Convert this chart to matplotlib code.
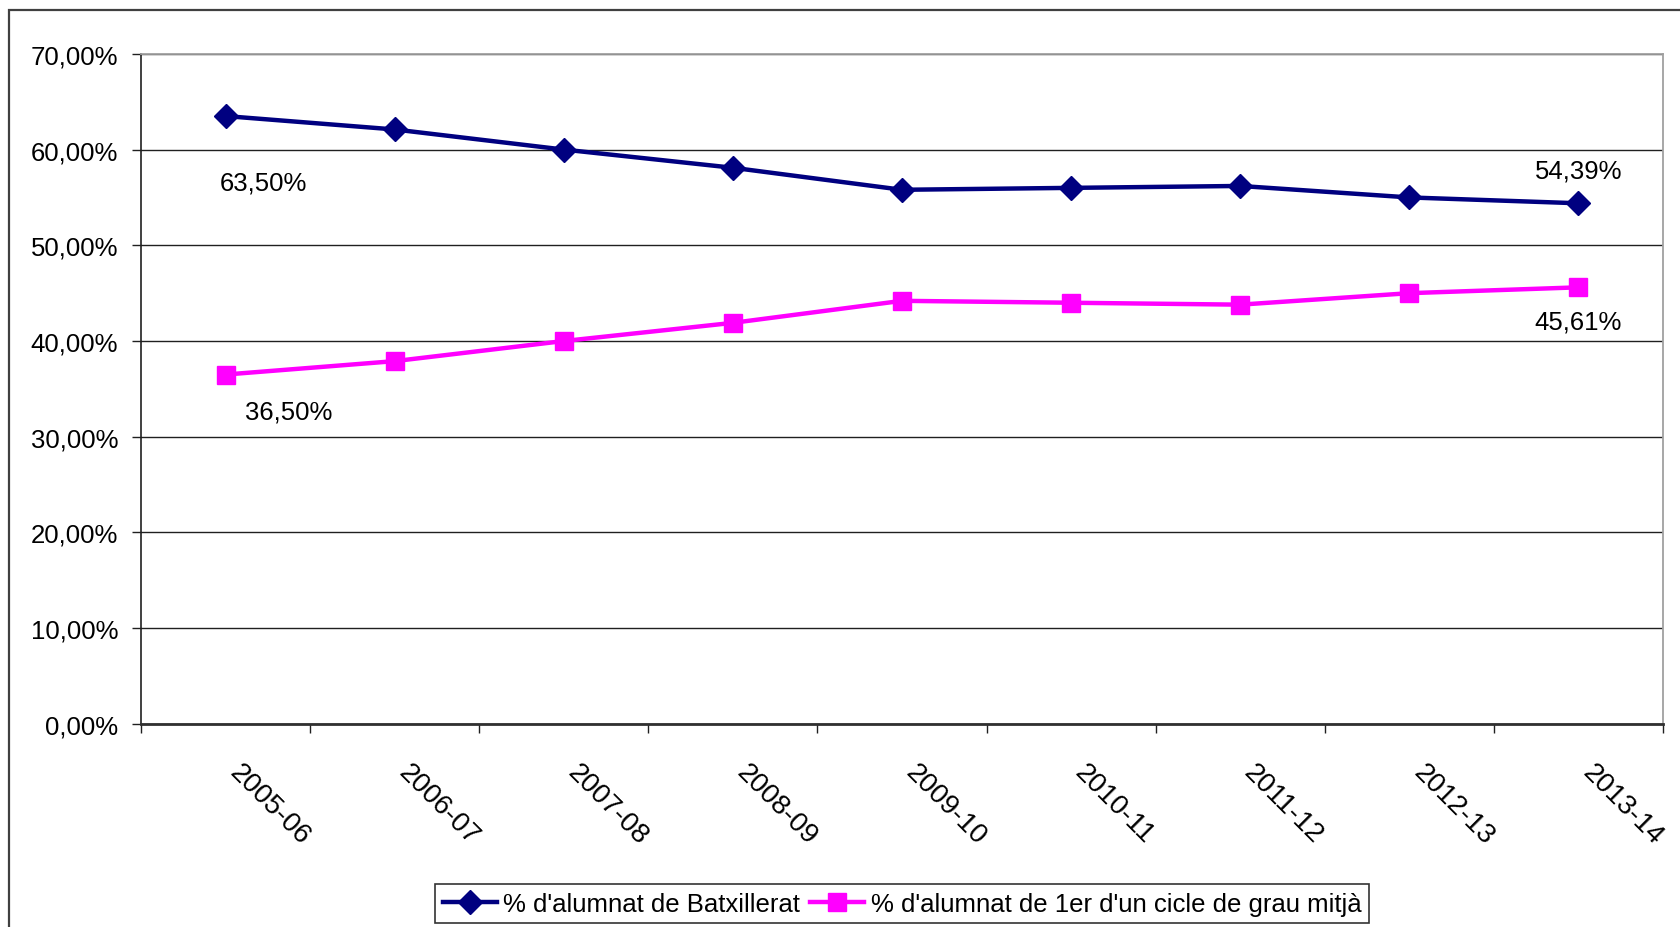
import matplotlib
matplotlib.use("Agg")
import matplotlib.pyplot as plt
import matplotlib.transforms as mtransforms
from matplotlib.patches import Rectangle
from matplotlib.ticker import FixedLocator, FuncFormatter

plt.rcParams["font.family"] = ["Liberation Sans", "DejaVu Sans"]

# Dades llegides del gràfic
cursos = ["2005-06", "2006-07", "2007-08", "2008-09", "2009-10",
          "2010-11", "2011-12", "2012-13", "2013-14"]
batxillerat = [63.50, 62.1, 60.0, 58.1, 55.8, 56.0, 56.2, 55.0, 54.39]
grau_mitja = [36.50, 37.9, 40.0, 41.9, 44.2, 44.0, 43.8, 45.0, 45.61]
nom_batx = "% d'alumnat de Batxillerat"
nom_gm = "% d'alumnat de 1er d'un cicle de grau mitjà"

NAVY = "#000080"
MAGENTA = "#ff00ff"
FS = 18.5


def pct(v, _pos=None):
    return f"{v:.2f}%".replace(".", ",")


fig = plt.figure(figsize=(16.8, 9.28), dpi=100)
ax = fig.add_axes([0.0839, 0.2188, 0.9060, 0.7221])

# marc exterior del gràfic
fig.patches.append(Rectangle((9 / 1680, -0.05), 1.1, 1 - 11 / 928 + 0.05,
                             transform=fig.transFigure, fill=False,
                             edgecolor="#404040", linewidth=1.6))

x = list(range(len(cursos)))
ax.plot(x, batxillerat, color=NAVY, lw=3.2, marker="D", ms=12,
        label=nom_batx, zorder=3)
ax.plot(x, grau_mitja, color=MAGENTA, lw=3.2, marker="s", ms=13,
        label=nom_gm, zorder=3)

# etiquetes de primer i últim valor
ax.annotate(pct(batxillerat[0]), (x[0], batxillerat[0]), xytext=(38, -66),
            textcoords="offset pixels", ha="center", va="center", fontsize=FS)
ax.annotate(pct(grau_mitja[0]), (x[0], grau_mitja[0]), xytext=(63, -37),
            textcoords="offset pixels", ha="center", va="center", fontsize=FS)
ax.annotate(pct(batxillerat[-1]), (x[-1], batxillerat[-1]), xytext=(0, 33),
            textcoords="offset pixels", ha="center", va="center", fontsize=FS)
ax.annotate(pct(grau_mitja[-1]), (x[-1], grau_mitja[-1]), xytext=(0, -34),
            textcoords="offset pixels", ha="center", va="center", fontsize=FS)

ax.set_xlim(-0.5, len(cursos) - 0.5)
ax.set_ylim(0, 70)
ax.set_yticks(range(0, 71, 10))
ax.yaxis.set_major_formatter(FuncFormatter(pct))
ax.grid(axis="y", color="#202020", lw=1.0)
ax.set_axisbelow(True)

ax.set_xticks(x)
ax.set_xticklabels(cursos, rotation=-45, ha="left", va="top",
                   rotation_mode="anchor")
ax.xaxis.set_minor_locator(FixedLocator([i - 0.5 for i in range(len(cursos) + 1)]))
ax.tick_params(axis="x", which="major", length=0, pad=25, labelsize=20)
ax.tick_params(axis="x", which="minor", length=6.5, width=1.0, color="#202020")
ax.tick_params(axis="y", length=6.5, width=1.0, pad=10, labelsize=FS,
               color="#202020")
shift = mtransforms.ScaledTranslation(17 / 100, 0, fig.dpi_scale_trans)
for lbl in ax.get_xticklabels():
    lbl.set_transform(lbl.get_transform() + shift)

for side in ("top", "right"):
    ax.spines[side].set_color("#a0a0a0")
    ax.spines[side].set_linewidth(1.3)
ax.spines["left"].set_color("#202020")
ax.spines["left"].set_linewidth(1.2)
ax.spines["bottom"].set_color("#303030")
ax.spines["bottom"].set_linewidth(2.0)

leg = fig.legend(loc="lower center", bbox_to_anchor=(0.537, 0.004), ncol=2,
                 fontsize=FS, frameon=True, fancybox=False, shadow=False,
                 handlelength=2.1, handletextpad=0.25, columnspacing=0.4,
                 borderpad=0.3, borderaxespad=0)
leg.get_frame().set_edgecolor("black")
leg.get_frame().set_linewidth(1.2)

fig.savefig("out.png", dpi=100)
